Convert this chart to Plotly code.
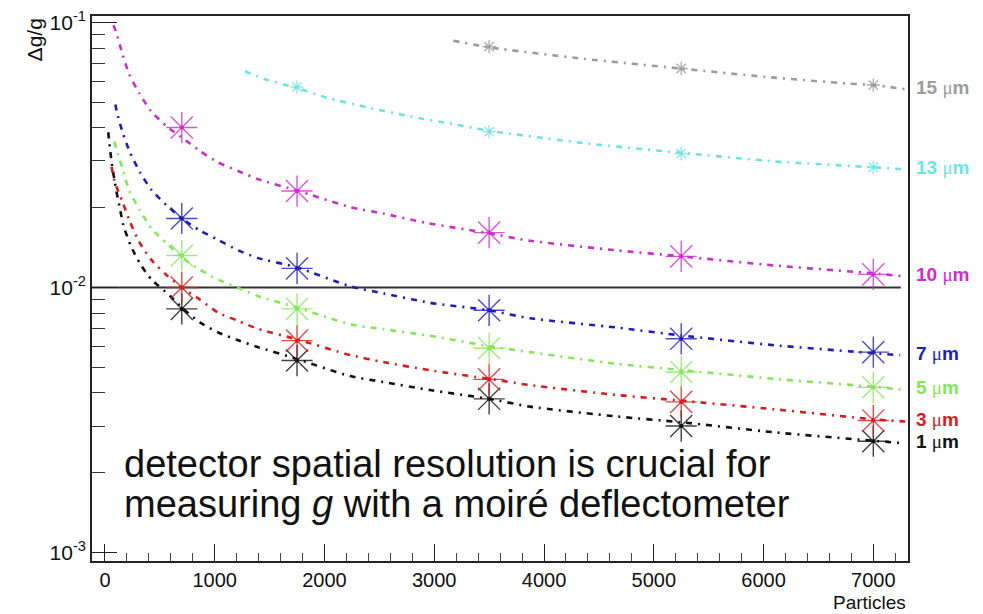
import plotly.graph_objects as go
import numpy as np

# Sample sizes where the simulated sensitivity was evaluated
particles = [700, 1750, 3500, 5250, 7000]

# Relative precision Δg/g for each detector resolution
res_1um = [0.0083, 0.0053, 0.0038, 0.0030, 0.00263]
res_3um = [0.0100, 0.0063, 0.0045, 0.0037, 0.00315]
res_5um = [0.0132, 0.0083, 0.0059, 0.0048, 0.0042]
res_7um = [0.0182, 0.0118, 0.0082, 0.0064, 0.0057]
res_10um = [0.0401, 0.0231, 0.0161, 0.0131, 0.0112]
particles_13um = [1750, 3500, 5250, 7000]
res_13um = [0.057, 0.0387, 0.032, 0.0284]
particles_15um = [3500, 5250, 7000]
res_15um = [0.081, 0.067, 0.058]

# Fitted trend curves (sampled along each fit)
fit_n_1um = [30, 61, 100, 140, 167, 234, 319, 425, 592, 700, 866, 1032, 1214, 1397, 1750,
             2232, 2536, 2961, 3500, 3872, 4662, 5250, 6100, 7000, 7290]
fit_1um = [0.0385, 0.0296, 0.0236, 0.0195, 0.0172, 0.0144, 0.0123, 0.0107, 0.0093, 0.0084,
           0.00738, 0.00676, 0.00632, 0.00595, 0.00537, 0.00463, 0.0044, 0.0041, 0.0038,
           0.00355, 0.00326, 0.0031, 0.00284, 0.00264, 0.00258]
fit_n_3um = [60, 91, 161, 228, 310, 425, 562, 700, 866, 1032, 1214, 1397, 1750, 2232, 2536,
             2961, 3500, 3872, 4662, 5250, 6100, 7000, 7290]
fit_3um = [0.0285, 0.0249, 0.0210, 0.0177, 0.0149, 0.01267, 0.01113, 0.0100, 0.0090, 0.00803,
           0.00748, 0.00697, 0.00637, 0.00556, 0.00523, 0.00487, 0.00452, 0.00428, 0.00393,
           0.00374, 0.00347, 0.00318, 0.00312]
fit_n_5um = [85, 107, 167, 221, 319, 425, 562, 700, 866, 1032, 1214, 1397, 1750, 2232, 2536,
             2961, 3500, 3872, 4662, 5250, 6100, 7000, 7270]
fit_5um = [0.0355, 0.0331, 0.0275, 0.0232, 0.0195, 0.01667, 0.01466, 0.0130, 0.01165, 0.0107,
           0.00996, 0.00927, 0.0084, 0.00726, 0.00696, 0.00657, 0.0060, 0.0057, 0.00515,
           0.00488, 0.00452, 0.00422, 0.00411]
fit_n_7um = [95, 107, 161, 228, 319, 425, 562, 700, 866, 1032, 1214, 1397, 1750, 2232, 2536,
             2961, 3500, 3872, 4662, 5250, 6100, 7000, 7245]
fit_7um = [0.0490, 0.0461, 0.0384, 0.0323, 0.0272, 0.0233, 0.0204, 0.0182, 0.0164, 0.0151,
           0.0138, 0.0129, 0.0119, 0.0101, 0.0095, 0.00875, 0.0082, 0.00765, 0.00706,
           0.00659, 0.00605, 0.00565, 0.00555]
fit_n_10um = [78, 107, 161, 221, 312, 419, 562, 700, 866, 1032, 1214, 1397, 1750, 2232, 2536,
              2931, 3500, 3872, 4662, 5250, 6100, 7000, 7290]
fit_10um = [0.0975, 0.0906, 0.0756, 0.0637, 0.0541, 0.0463, 0.0405, 0.0368, 0.0327, 0.0296,
            0.0275, 0.0256, 0.0232, 0.0201, 0.0190, 0.0175, 0.0160, 0.0150, 0.0138, 0.0131,
            0.0121, 0.0113, 0.0110]
fit_n_13um = [1275, 1458, 1746, 2020, 2399, 2779, 3174, 3500, 4400, 5250, 6100, 7000, 7290]
fit_13um = [0.0654, 0.0610, 0.0566, 0.0520, 0.0477, 0.0442, 0.0413, 0.0390, 0.0349, 0.0322,
            0.0299, 0.0284, 0.0279]
fit_n_15um = [3174, 3500, 4358, 5254, 6029, 6758, 7000, 7290]
fit_15um = [0.0853, 0.0805, 0.0729, 0.0669, 0.0622, 0.0588, 0.0580, 0.0560]

labels = ["1 μm", "3 μm", "5 μm", "7 μm", "10 μm", "13 μm", "15 μm"]
colors = ["#111111", "#d41e1e", "#86e65a", "#1f1fb4", "#c92fc9", "#6fe3e3", "#9c9c9c"]

THRESHOLD = 0.01
X_RANGE = [-118, 7316]
Y_RANGE = [-3.032, -0.976]

series = [
    (particles, res_1um, fit_n_1um, fit_1um, 26),
    (particles, res_3um, fit_n_3um, fit_3um, 26),
    (particles, res_5um, fit_n_5um, fit_5um, 26),
    (particles, res_7um, fit_n_7um, fit_7um, 26),
    (particles, res_10um, fit_n_10um, fit_10um, 26),
    (particles_13um, res_13um, fit_n_13um, fit_13um, 11),
    (particles_15um, res_15um, fit_n_15um, fit_15um, 11),
]

fig = go.Figure()

# reference level Δg/g = 1e-2
fig.add_trace(go.Scatter(
    x=[X_RANGE[0], 7250], y=[THRESHOLD, THRESHOLD], mode="lines",
    line=dict(color="#333333", width=2), hoverinfo="skip", showlegend=False,
))

for (xs, ys, fx, fy, msize), lab, col in zip(series, labels, colors):
    fig.add_trace(go.Scatter(
        x=fx, y=fy, mode="lines",
        line=dict(color=col, width=2.6, dash="6px,6px,2px,6px", shape="spline", smoothing=0.6),
        showlegend=False, hoverinfo="skip",
    ))
    fig.add_trace(go.Scatter(
        x=xs, y=ys, mode="markers", name=lab,
        marker=dict(symbol="asterisk-open", size=msize, color=col, opacity=0.8,
                    line=dict(color=col, width=1.4)),
        showlegend=False,
    ))
    fig.add_trace(go.Scatter(
        x=xs, y=ys, mode="markers",
        marker=dict(symbol="circle", size=4 if msize > 15 else 3, color=col),
        showlegend=False, hoverinfo="skip",
    ))
    # resolution label beside the end of each fit
    num, unit = lab.split(" ")
    fig.add_annotation(
        x=1.0, xref="paper", xanchor="left", xshift=6,
        y=np.log10(fy[-1]), yref="y", yanchor="middle", yshift=2,
        text=f"<b>{num} </b><span style='font-family:Liberation Serif'>μ</span><b>m</b>",
        showarrow=False, font=dict(family="Liberation Sans, Arial", size=19, color=col),
    )

minor_y = [m * 10.0 ** e for e in (-3, -2) for m in range(2, 10)]

fig.update_layout(
    width=983, height=614,
    margin=dict(l=92, r=75, t=8, b=53),
    paper_bgcolor="white", plot_bgcolor="white",
    font=dict(family="Liberation Sans, Arial", size=20, color="#111111"),
    xaxis=dict(
        range=X_RANGE, showgrid=False, zeroline=False,
        showline=True, linecolor="#222222", linewidth=1.6, mirror=True,
        tickmode="array", tickvals=[0, 1000, 2000, 3000, 4000, 5000, 6000, 7000],
        ticks="inside", ticklen=17, tickwidth=1.4, tickcolor="#222222",
        minor=dict(tickvals=[v for v in range(200, 7300, 200) if v % 1000],
                   ticks="inside", ticklen=8, tickwidth=1.2, tickcolor="#444444"),
        tickfont=dict(size=20),
    ),
    yaxis=dict(
        type="log", range=Y_RANGE, showgrid=False, zeroline=False,
        showline=True, linecolor="#222222", linewidth=1.6, mirror=True,
        tickmode="array", tickvals=[0.001, 0.01, 0.1],
        ticktext=["10<sup>-3</sup>", "10<sup>-2</sup>", "10<sup>-1</sup>"],
        ticks="inside", ticklen=25, tickwidth=1.4, tickcolor="#222222",
        minor=dict(tickvals=minor_y, ticks="inside", ticklen=13, tickwidth=1.2,
                   tickcolor="#333333"),
        tickfont=dict(size=21),
    ),
)

fig.add_annotation(
    x=-0.07, xref="paper", y=1.0, yref="paper", xanchor="center", yanchor="top",
    text="Δg/g", textangle=-90, showarrow=False, font=dict(size=21),
)
fig.add_annotation(
    x=1.0, xref="paper", y=-0.0755, yref="paper", xanchor="right", yanchor="middle",
    text="Particles", showarrow=False, font=dict(size=19),
)
# two-line caption, each line placed separately for tight spacing
caption = ["detector spatial resolution is crucial for",
           "measuring <i>g</i> with a moiré deflectometer"]
for line, ypos in zip(caption, [0.178, 0.104]):
    fig.add_annotation(
        x=0.037, xref="paper", y=ypos, yref="paper", xanchor="left", yanchor="middle",
        text=line, showarrow=False, font=dict(size=38, color="#111111"),
    )

fig.write_html("out.html")
